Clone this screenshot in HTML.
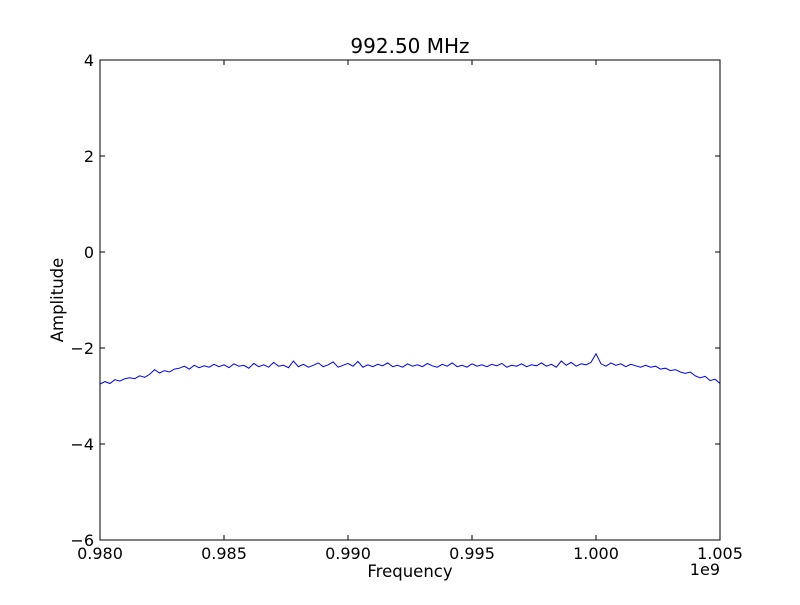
<!DOCTYPE html>
<html><head><meta charset="utf-8"><style>
body{margin:0;background:#fff}
svg text{font-family:"DejaVu Sans","Liberation Sans",sans-serif;fill:#000}
</style></head><body>
<svg id="chart" width="800" height="600">
<rect x="0" y="0" width="800" height="600" fill="#fff"/>
<text x="410" y="53" font-size="20" text-anchor="middle">992.50 MHz</text>
<text x="410" y="577" font-size="16.5" text-anchor="middle">Frequency</text>
<text x="63" y="300" font-size="16.5" text-anchor="middle" transform="rotate(-90 63 300)">Amplitude</text>
<text x="720" y="575" font-size="16" text-anchor="end">1e9</text>
<g id="ticks"></g>
<polyline id="line" fill="none" stroke="#0000ff" stroke-width="1"/>
<rect x="100" y="60" width="620" height="480" fill="none" stroke="#000" stroke-width="1"/>
</svg>
<script>
const xTicks=[0.980,0.985,0.990,0.995,1.000,1.005];
const xTickLabels=["0.980","0.985","0.990","0.995","1.000","1.005"];
const yTicks=[-6,-4,-2,0,2,4];
const yTickLabels=["\u22126","\u22124","\u22122","0","2","4"];
const freqStart=0.980, freqStep=0.0002;
const amplitude=[-2.75,-2.70,-2.74,-2.66,-2.69,-2.64,
-2.62,-2.64,-2.58,-2.61,-2.55,
-2.45,-2.52,-2.47,-2.50,-2.44,
-2.42,-2.38,-2.44,-2.36,-2.41,
-2.37,-2.40,-2.34,-2.39,-2.35,-2.41,-2.33,-2.38,-2.36,-2.42,
-2.32,-2.39,-2.35,-2.40,-2.30,-2.38,-2.36,-2.41,-2.27,-2.39,
-2.34,-2.40,-2.36,-2.31,-2.39,-2.35,-2.29,-2.40,-2.36,-2.32,
-2.38,-2.28,-2.40,-2.35,-2.39,-2.34,-2.37,-2.31,-2.39,-2.36,
-2.40,-2.33,-2.38,-2.35,-2.39,-2.32,-2.37,-2.40,-2.34,-2.38,
-2.31,-2.39,-2.36,-2.40,-2.33,-2.38,-2.35,-2.39,-2.34,-2.37,
-2.32,-2.40,-2.36,-2.38,-2.33,-2.39,-2.35,-2.37,-2.31,-2.38,
-2.34,-2.40,-2.27,-2.36,-2.30,-2.38,-2.33,-2.35,-2.30,
-2.12,
-2.33,-2.38,-2.31,-2.36,-2.33,-2.39,-2.34,-2.37,-2.40,-2.36,
-2.40,-2.38,-2.44,-2.42,-2.47,-2.45,-2.50,-2.53,-2.50,-2.58,-2.62,-2.59,-2.68,-2.65,-2.74];
const X=v=>100+(v-0.980)/0.025*620;
const Y=v=>540-(v+6)/10*480;
const ns="http://www.w3.org/2000/svg";
const g=document.getElementById('ticks');
function mk(t,a){const e=document.createElementNS(ns,t);for(const k in a)e.setAttribute(k,a[k]);g.appendChild(e);return e;}
xTicks.forEach((v,i)=>{const x=X(v);
const t1=mk('line',{x1:x,x2:x,y1:540,y2:535,stroke:'#000'});


const t2=mk('line',{x1:x,x2:x,y1:60,y2:65,stroke:'#000'});


const l=mk('text',{x:x,y:559,'font-size':16,'text-anchor':'middle'});l.textContent=xTickLabels[i];

});
yTicks.forEach((v,i)=>{const y=Y(v);
const t1=mk('line',{x1:100,x2:105,y1:y,y2:y,stroke:'#000'});


const t2=mk('line',{x1:715,x2:720,y1:y,y2:y,stroke:'#000'});


const l=mk('text',{x:94,y:y+6,'font-size':16,'text-anchor':'end'});l.textContent=yTickLabels[i];

});
document.getElementById('line').setAttribute('points',amplitude.map((v,i)=>X(freqStart+i*freqStep).toFixed(1)+','+Y(v).toFixed(1)).join(' '));
</script>
</body></html>
